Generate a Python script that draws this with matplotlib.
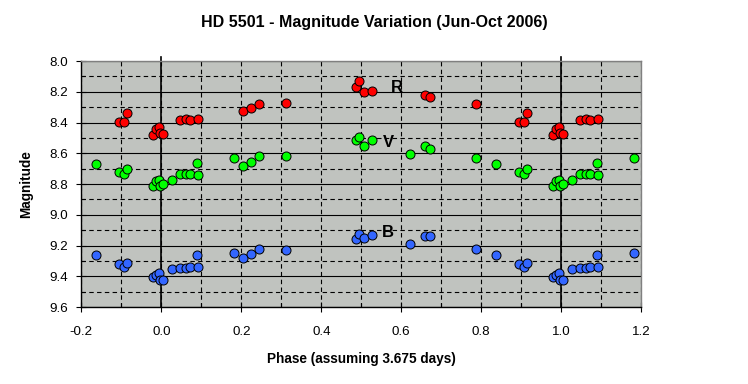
import numpy as np
import matplotlib
matplotlib.use("Agg")
import matplotlib.pyplot as plt
from matplotlib.ticker import MultipleLocator, FormatStrFormatter

plt.rcParams['font.family'] = ['Liberation Sans', 'DejaVu Sans']
plt.rcParams['axes.unicode_minus'] = False

# Base phases (0..1) and magnitudes per band
r_phase = [0.005, 0.047, 0.061, 0.072, 0.092, 0.204, 0.224, 0.244, 0.312, 0.486, 0.494,
           0.507, 0.527, 0.658, 0.672, 0.787, 0.894, 0.907, 0.914, 0.979, 0.986, 0.994, 0.997]
r_mag = [8.473, 8.381, 8.375, 8.381, 8.375, 8.323, 8.303, 8.281, 8.271, 8.167, 8.128,
         8.199, 8.195, 8.219, 8.234, 8.277, 8.394, 8.399, 8.335, 8.480, 8.443, 8.427, 8.469]

vb_phase = [0.005, 0.027, 0.047, 0.061, 0.072, 0.088, 0.092, 0.181, 0.204, 0.224, 0.244,
            0.312, 0.486, 0.494, 0.507, 0.527, 0.621, 0.658, 0.672, 0.787, 0.837, 0.894,
            0.907, 0.914, 0.979, 0.986, 0.994, 0.997]
v_mag = [8.797, 8.775, 8.734, 8.733, 8.734, 8.666, 8.740, 8.628, 8.682, 8.654, 8.615,
         8.621, 8.511, 8.496, 8.552, 8.517, 8.604, 8.552, 8.571, 8.628, 8.673, 8.725,
         8.736, 8.703, 8.810, 8.779, 8.773, 8.810]
b_mag = [9.427, 9.355, 9.344, 9.344, 9.338, 9.264, 9.343, 9.251, 9.284, 9.258, 9.225,
         9.232, 9.158, 9.125, 9.154, 9.134, 9.193, 9.141, 9.141, 9.221, 9.264, 9.320,
         9.340, 9.314, 9.407, 9.389, 9.381, 9.422]

x_ticks = [-0.2, 0.0, 0.2, 0.4, 0.6, 0.8, 1.0, 1.2]
y_ticks = [8.0, 8.2, 8.4, 8.6, 8.8, 9.0, 9.2, 9.4, 9.6]

def extend(ph, mag):
    ph = np.asarray(ph); mag = np.asarray(mag)
    allp = np.concatenate([ph - 1, ph, ph + 1])
    allm = np.concatenate([mag, mag, mag])
    keep = (allp >= -0.2) & (allp <= 1.2)
    return allp[keep], allm[keep]

fig = plt.figure(figsize=(7.48, 3.84), dpi=100)
fig.patch.set_facecolor('white')
ax = fig.add_axes([81.3/748, 1 - 307/384, 560/748, 246/384])
ax.set_facecolor('#C0C3BF')

ax.set_xlim(x_ticks[0], x_ticks[-1])
ax.set_ylim(y_ticks[-1], y_ticks[0])
ax.set_xticks(x_ticks)
ax.set_yticks(y_ticks)
ax.xaxis.set_major_formatter(FormatStrFormatter('%.1f'))
ax.yaxis.set_major_formatter(FormatStrFormatter('%.1f'))
ax.xaxis.set_minor_locator(MultipleLocator(0.1))
ax.yaxis.set_minor_locator(MultipleLocator(0.1))

ax.grid(True, axis='y', which='major', color='black', lw=0.8, ls='-')
ax.grid(True, axis='y', which='minor', color='black', lw=0.8, ls=(0, (4, 3)))
ax.grid(True, axis='x', which='both', color='black', lw=0.8, ls=(0, (4, 3)))
ax.set_axisbelow(True)

for xv in (0.0, 1.0):
    ax.axvline(xv, ymin=0, ymax=1.0175, color='black', lw=1.2, clip_on=False, zorder=1.5)

for ph, mag, col in ((r_phase, r_mag, '#FF0000'), (vb_phase, v_mag, '#00FF00'),
                     (vb_phase, b_mag, '#3366FF')):
    p, m = extend(ph, mag)
    ax.plot(p, m, 'o', ms=6.5, mfc=col, mec='black', mew=0.7, zorder=3, clip_on=False)

ax.text(0.589, 8.17, 'R', fontsize=12, fontweight='bold', ha='center', va='center', zorder=4)
ax.text(0.569, 8.527, 'V', fontsize=12, fontweight='bold', ha='center', va='center', zorder=4)
ax.text(0.567, 9.117, 'B', fontsize=12, fontweight='bold', ha='center', va='center', zorder=4)

for s in ('left', 'bottom'):
    ax.spines[s].set_color('black'); ax.spines[s].set_linewidth(1.0)
for s in ('top', 'right'):
    ax.spines[s].set_color('#808080'); ax.spines[s].set_linewidth(1.0)

ax.tick_params(axis='both', which='major', direction='inout', length=7, width=0.8,
               labelsize=9.6, colors='black')
ax.tick_params(axis='x', which='major', pad=10)
ax.tick_params(axis='y', which='major', pad=6)
ax.tick_params(axis='both', which='minor', direction='in', length=3, width=0.8)

ax.set_xlabel('Phase (assuming 3.675 days)', fontsize=9.8, fontweight='bold', labelpad=10)
ax.set_ylabel('Magnitude', fontsize=9.8, fontweight='bold', labelpad=12)
fig.text(0.5, 1 - 22/384, 'HD 5501 - Magnitude Variation (Jun-Oct 2006)', fontsize=11.5,
         fontweight='bold', ha='center', va='center')

fig.savefig('out.png', dpi=100, facecolor='white')
